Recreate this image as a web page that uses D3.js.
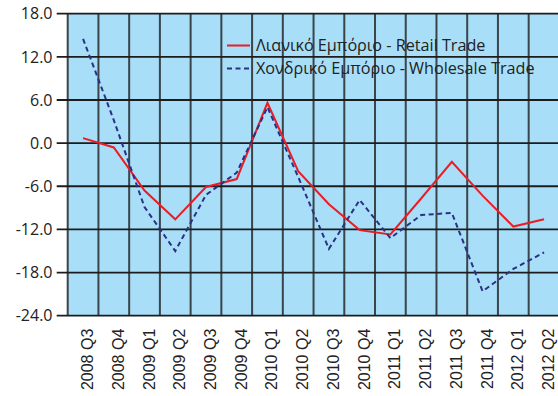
<!DOCTYPE html>
<html>
<head>
<meta charset="utf-8">
<script src="https://cdn.jsdelivr.net/npm/d3@7"></script>
<style>
  html, body { margin: 0; padding: 0; background: #ffffff; }
  svg { display: block; }
</style>
</head>
<body>
<svg id="chart" width="558" height="396"></svg>
<script>
// Quarterly categories
const quarters = [
  "2008 Q3", "2008 Q4", "2009 Q1", "2009 Q2", "2009 Q3", "2009 Q4",
  "2010 Q1", "2010 Q2", "2010 Q3", "2010 Q4", "2011 Q1", "2011 Q2",
  "2011 Q3", "2011 Q4", "2012 Q1", "2012 Q2"
];

// Retail trade (%)
const retail = [0.7, -0.6, -6.6, -10.6, -6.1, -5.0, 5.6, -3.9, -8.5, -12.1, -12.7, -7.7, -2.6, -7.3, -11.6, -10.6];

// Wholesale trade (%)
const wholesale = [14.5, 3.2, -8.9, -15.0, -7.2, -4.1, 5.0, -4.7, -14.7, -7.9, -13.2, -10.0, -9.7, -20.6, -17.5, -15.2];

// Y axis ticks
const yTicks = [18, 12, 6, 0, -6, -12, -18, -24];

const series = [
  { name: "Λιανικό Εμπόριο - Retail Trade", values: retail, color: "#ec1c24", dash: null },
  { name: "Χονδρικό Εμπόριο - Wholesale Trade", values: wholesale, color: "#2b3087", dash: "5,3.5" }
];

const svg = d3.select("#chart");
const plotLeft = 67.7, plotRight = 559.4, plotTop = 13.7, plotBottom = 315.7;

const x = d3.scaleBand().domain(quarters).range([plotLeft, plotRight]).padding(0);
const y = d3.scaleLinear().domain([-24, 18]).range([plotBottom, plotTop]);

// Plot background
svg.append("rect")
  .attr("x", plotLeft).attr("y", plotTop)
  .attr("width", plotRight - plotLeft).attr("height", plotBottom - plotTop)
  .attr("fill", "#a9def8");

// Vertical grid lines at category boundaries
const bounds = quarters.map(q => x(q)).concat([plotRight]);
svg.append("g").selectAll("line").data(bounds).join("line")
  .attr("x1", d => d).attr("x2", d => d)
  .attr("y1", plotTop).attr("y2", plotBottom)
  .attr("stroke", "#3a4449").attr("stroke-width", 2);

// Horizontal grid lines, extended left as tick marks
svg.append("g").selectAll("line").data(yTicks).join("line")
  .attr("x1", plotLeft - 11).attr("x2", plotRight)
  .attr("y1", d => y(d)).attr("y2", d => y(d))
  .attr("stroke", "#1c1c1c").attr("stroke-width", 1.8);

// Y tick labels
svg.append("g").selectAll("text").data(yTicks).join("text")
  .attr("x", 52.5).attr("y", d => y(d))
  .attr("dy", "0.36em")
  .attr("text-anchor", "end")
  .attr("font-family", "'Open Sans', sans-serif")
  .attr("font-size", 16)
  .attr("fill", "#222")
  .text(d => d.toFixed(1));

// X tick labels, rotated
svg.append("g").selectAll("text").data(quarters).join("text")
  .attr("transform", d => `translate(${x(d) + x.bandwidth() / 2 + 10},${plotBottom + 13}) rotate(-90)`)
  .attr("text-anchor", "end")
  .attr("font-family", "'Liberation Sans', Arial, sans-serif")
  .attr("font-size", 16)
  .attr("fill", "#222")
  .text(d => d);

// Series lines
const line = d3.line()
  .x((d, i) => x(quarters[i]) + x.bandwidth() / 2)
  .y(d => y(d));

series.forEach(s => {
  svg.append("path")
    .datum(s.values)
    .attr("d", line)
    .attr("fill", "none")
    .attr("stroke", s.color)
    .attr("stroke-width", 2)
    .attr("stroke-dasharray", s.dash);
});

// Legend
const legend = svg.append("g");
series.forEach((s, i) => {
  const ly = 45.5 + i * 23;
  legend.append("line")
    .attr("x1", 227).attr("x2", 250)
    .attr("y1", ly).attr("y2", ly)
    .attr("stroke", s.color).attr("stroke-width", 2)
    .attr("stroke-dasharray", s.dash);
  legend.append("text")
    .attr("x", 256).attr("y", ly)
    .attr("dy", "0.36em")
    .attr("font-family", "'Open Sans', sans-serif")
    .attr("font-size", 16.2)
    .attr("fill", "#222")
    .text(s.name);
});
</script>
</body>
</html>
